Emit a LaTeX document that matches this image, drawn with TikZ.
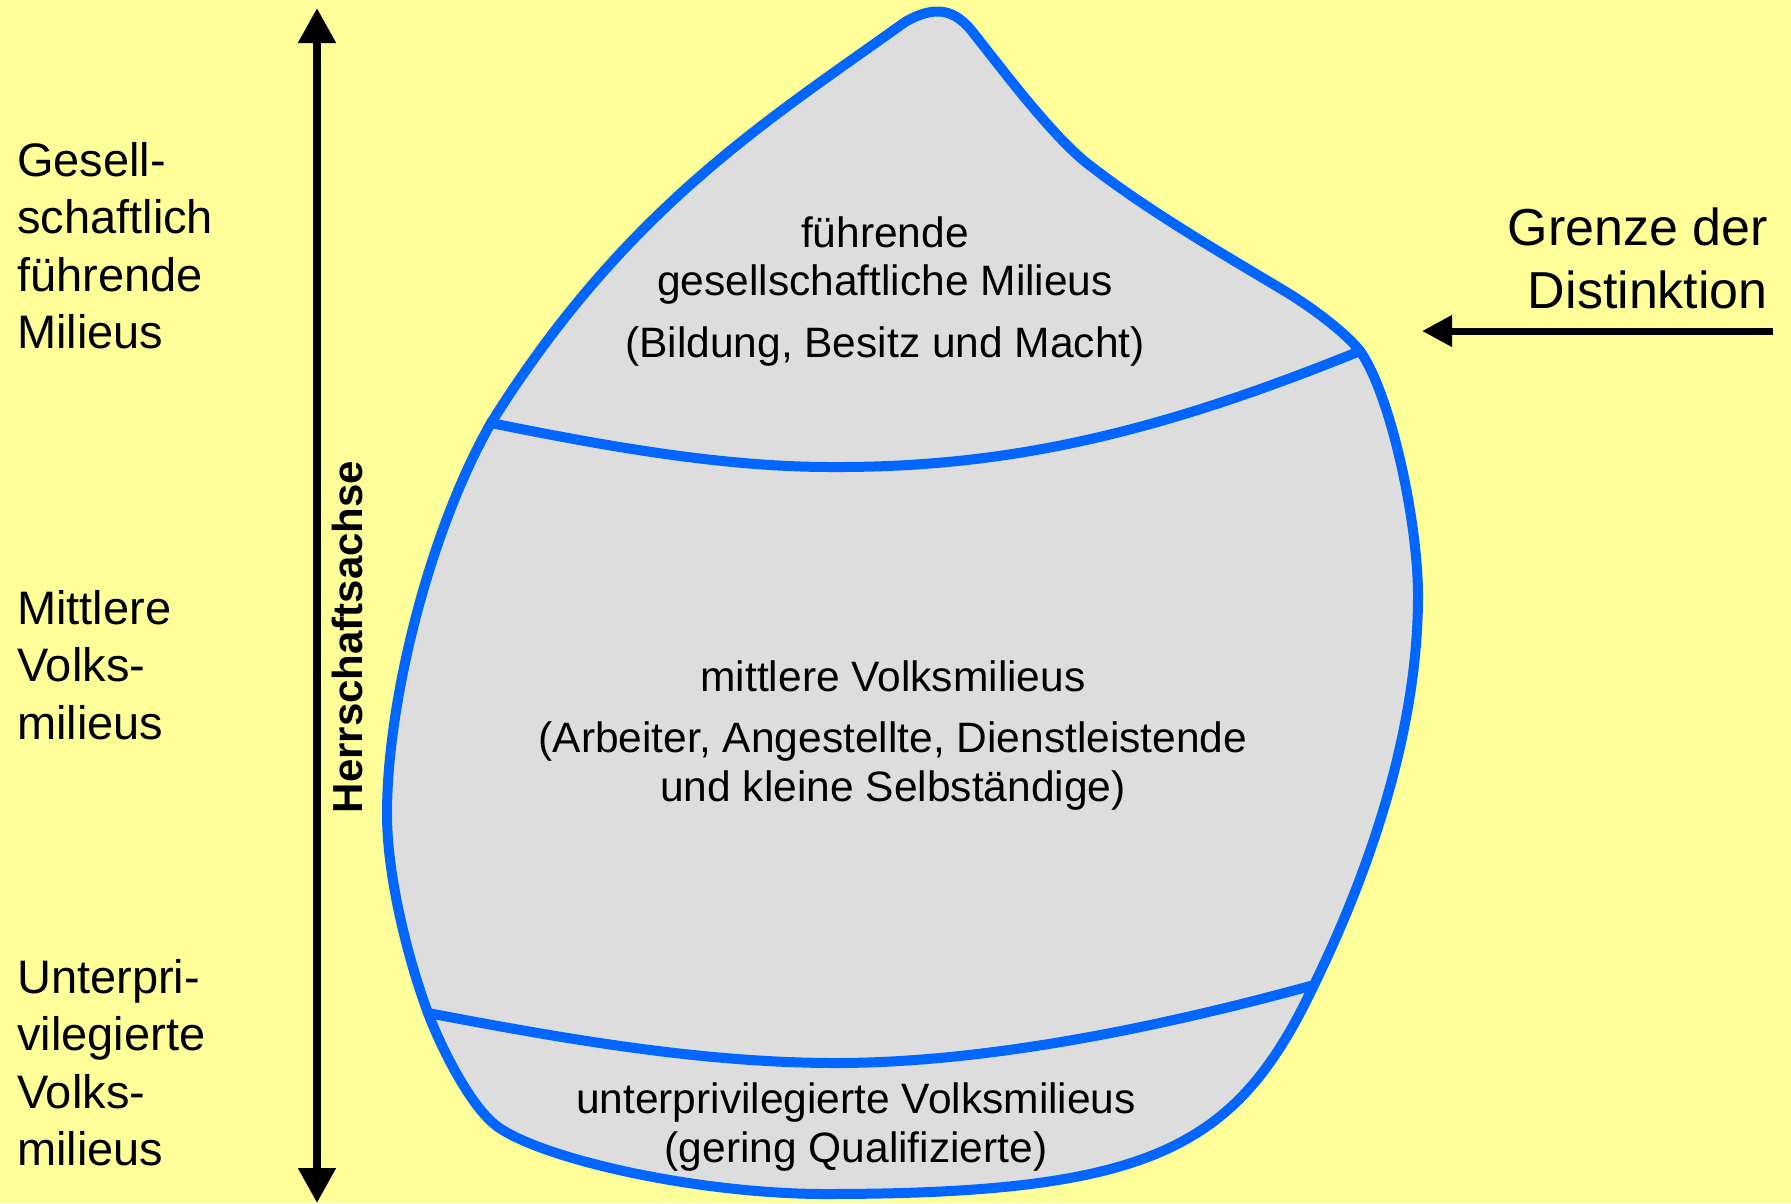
\documentclass[tikz,border=0pt]{standalone}
\usepackage{fontspec}
\setmainfont{Liberation Sans}
\usetikzlibrary{arrows.meta}
\definecolor{bgyellow}{HTML}{FFFF99}
\definecolor{blobgrey}{HTML}{DDDDDD}
\definecolor{lineblue}{HTML}{0066FF}
\newcommand{\myblobpath}{%
  (tl) .. controls (626,207) and (770,119) .. (905,22)
  .. controls (935,5) and (955,8) .. (975,35)
  .. controls (1005,73) and (1048,130) .. (1083,160)
  .. controls (1143,208) and (1223,254) .. (1283,290)
  .. controls (1310,306) and (1345,332) .. (tr)
  .. controls (1390,393) and (1418,520) .. (1418,596)
  .. controls (1418,730) and (1370,870) .. (br)
  .. controls (1237,1147) and (1155,1194) .. (825,1194)
  .. controls (700,1194) and (545,1160) .. (498,1127)
  .. controls (470,1107) and (440,1045) .. (bl)
  .. controls (410,965) and (387,880) .. (387,814)
  .. controls (387,700) and (430,530) .. (tl) -- cycle}
\begin{document}
\begin{tikzpicture}[x=1pt,y=-1pt,
  lefttxt/.style={anchor=base west, inner sep=0pt, font=\fontsize{47pt}{57.5pt}\selectfont},
  innertxt/.style={anchor=base, inner sep=0pt, font=\fontsize{42.5pt}{50pt}\selectfont},
  righttxt/.style={anchor=base east, inner sep=0pt, font=\fontsize{52pt}{63pt}\selectfont},
  axislbl/.style={rotate=90, anchor=base, inner sep=0pt, font=\bfseries\fontsize{42pt}{50pt}\selectfont},
  blobline/.style={draw=lineblue, line width=10pt, line join=round, line cap=round},
  bigtip/.style={line width=8pt, {Triangle[length=35pt,width=36pt]}-{Triangle[length=35pt,width=36pt]}},
  smalltip/.style={line width=7pt, -{Triangle[length=30pt,width=30pt]}}]
\useasboundingbox (0,0) rectangle (1791,1203);
\fill[bgyellow] (0,0) rectangle (1791,1203);
% junction points
\coordinate (tl) at (491,423);
\coordinate (tr) at (1360,351);
\coordinate (bl) at (428,1013);
\coordinate (br) at (1314,985);
% blob fill
\fill[blobgrey] \myblobpath;
% bands
\draw[blobline] (tl) .. controls (600,445) and (720,467) .. (830,467)
  .. controls (1010,468) and (1160,432) .. (tr);
\draw[blobline] (bl) .. controls (560,1038) and (700,1063) .. (836,1063)
  .. controls (980,1063) and (1150,1030) .. (br);
% blob outline
\draw[blobline] \myblobpath;
% axis
\coordinate (axtop) at (317,8);
\coordinate (axbot) at (317,1203);
\draw[bigtip] (axbot) -- (axtop);
\node[axislbl] (axlabel) at (362,637) {Herrschaftsachse};
% right arrow
\coordinate (grstart) at (1773,331);
\coordinate (grend) at (1422,331);
\draw[smalltip] (grstart) -- (grend);
\node[righttxt] (gr1) at (1768,245) {Grenze der};
\node[righttxt] (gr2) at (1768,308) {Distinktion};
% left labels
\node[lefttxt] (l1a) at (17,176) {Gesell-};
\node[lefttxt] (l1b) at (17,233.5) {schaftlich};
\node[lefttxt] (l1c) at (17,291) {führende};
\node[lefttxt] (l1d) at (17,348.5) {Milieus};
\node[lefttxt] (l2a) at (17,624) {Mittlere};
\node[lefttxt] (l2b) at (17,681.5) {Volks-};
\node[lefttxt] (l2c) at (17,739) {milieus};
\node[lefttxt] (l3a) at (17,993) {Unterpri-};
\node[lefttxt] (l3b) at (17,1050.5) {vilegierte};
\node[lefttxt] (l3c) at (17,1108) {Volks-};
\node[lefttxt] (l3d) at (17,1165.5) {milieus};
% inner texts
\node[innertxt] (t1a) at (885,247) {führende};
\node[innertxt] (t1b) at (885,295) {gesellschaftliche Milieus};
\node[innertxt] (t1c) at (885,357) {(Bildung, Besitz und Macht)};
\node[innertxt] (t2a) at (893,691) {mittlere Volksmilieus};
\node[innertxt] (t2b) at (893,752) {(Arbeiter, Angestellte, Dienstleistende};
\node[innertxt] (t2c) at (893,801) {und kleine Selbständige)};
\node[innertxt] (t3a) at (856,1113) {unterprivilegierte Volksmilieus};
\node[innertxt] (t3b) at (856,1162) {(gering Qualifizierte)};
\end{tikzpicture}
\end{document}
